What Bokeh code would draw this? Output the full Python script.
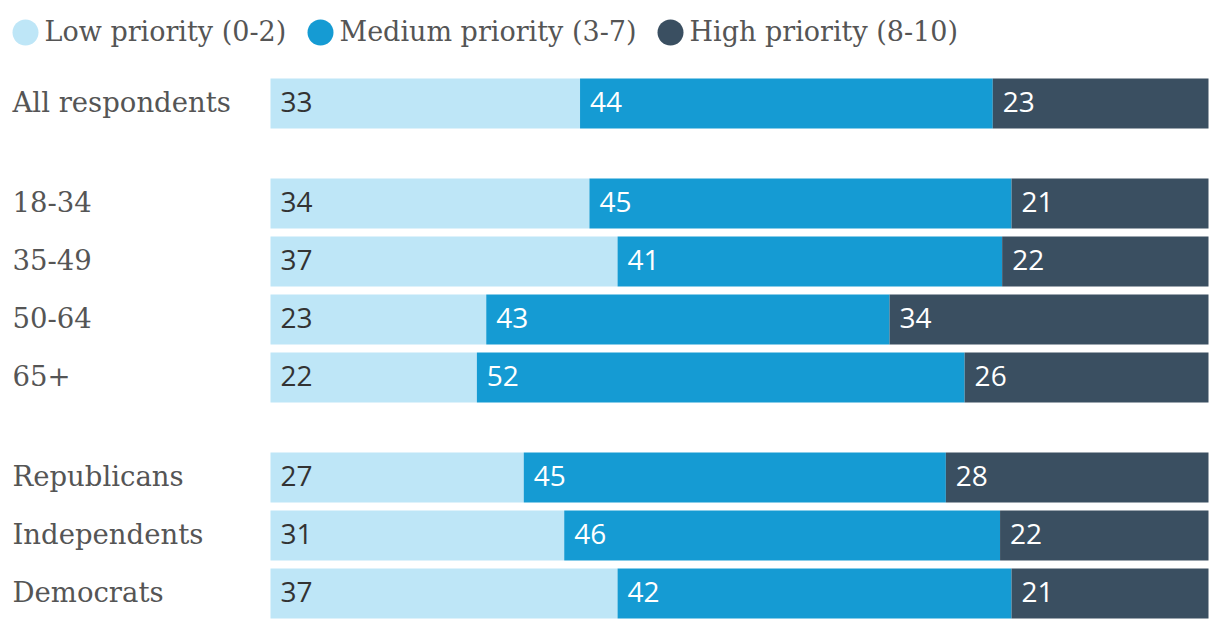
from bokeh.plotting import figure
from bokeh.models import Range1d, ColumnDataSource
from bokeh.core.properties import value
from bokeh.embed import file_html
from bokeh.resources import INLINE

# ---- data ----
groups = ["All respondents", "18-34", "35-49", "50-64", "65+",
          "Republicans", "Independents", "Democrats"]
group_id = [0, 1, 1, 1, 1, 2, 2, 2]
low = [33, 34, 37, 23, 22, 27, 31, 37]
medium = [44, 45, 41, 43, 52, 45, 46, 42]
high = [23, 21, 22, 34, 26, 28, 22, 21]
series_names = ["Low priority (0-2)", "Medium priority (3-7)", "High priority (8-10)"]
colors = ["#bee6f7", "#159bd3", "#3a4f61"]
value_colors = ["#333333", "#ffffff", "#ffffff"]

# ---- layout ----
W, H = 1216, 624
PX = 9.38          # pixels per percent
LEFT_PX = 270      # where the bars start
X0 = -LEFT_PX / PX
X1 = X0 + W / PX
FIRST_Y, PITCH, GAP, BAR_H = 103, 58, 42, 50
SERIF = value("DejaVu Serif")
SANS = value("Open Sans")
LABEL_COLOR = "#555555"


def px_to_x(px):
    return X0 + px / PX


p = figure(width=W, height=H, x_range=Range1d(X0, X1), y_range=Range1d(H, 0),
           output_backend="svg", toolbar_location=None, min_border=0)
p.axis.visible = False
p.grid.visible = False
p.outline_line_color = None

ys = [FIRST_Y + PITCH * i + GAP * g for i, g in enumerate(group_id)]

series = [low, medium, high]
totals = [a + b + c for a, b, c in zip(low, medium, high)]
cum = [0.0] * len(groups)
for s, vals in enumerate(series):
    lefts = [c for c in cum]
    rights = [c + v / t * 100 for c, v, t in zip(cum, vals, totals)]
    src = ColumnDataSource(dict(y=ys, left=lefts, right=rights,
                                txt=[str(v) for v in vals]))
    p.hbar(y="y", left="left", right="right", height=BAR_H, source=src,
           fill_color=colors[s], line_color=None)
    p.text(x="left", y="y", text="txt", source=src, x_offset=10, y_offset=-2,
           text_baseline="middle", text_align="left",
           text_font=SANS, text_font_size="28px", text_color=value_colors[s])
    cum = rights

# row labels
lab_src = ColumnDataSource(dict(x=[px_to_x(12)] * len(groups), y=ys, t=groups))
p.text(x="x", y="y", text="t", source=lab_src, text_baseline="middle",
       text_align="left", text_font=SERIF, text_font_size="27.5px",
       text_color=LABEL_COLOR, y_offset=-2)

# legend
leg_circle_px = [25, 320, 670]
leg_y = 32
p.scatter(x=[px_to_x(v) for v in leg_circle_px], y=[leg_y] * 3, size=26,
          marker="circle", fill_color=colors, line_color=None)
p.text(x=[px_to_x(v + 19) for v in leg_circle_px], y=[leg_y] * 3,
       text=series_names, text_baseline="middle", text_align="left",
       text_font=SERIF, text_font_size="27px", text_color=LABEL_COLOR,
       y_offset=-1)

open("out.html", "w").write(file_html(p, INLINE))
